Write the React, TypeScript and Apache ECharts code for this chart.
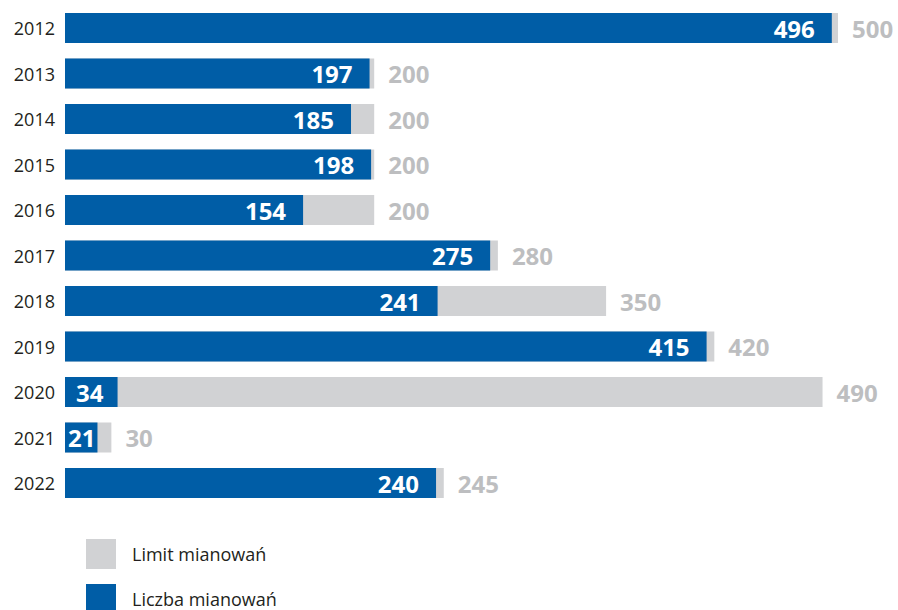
import React, { useEffect, useRef } from "react";
import * as echarts from "echarts";

const years = ["2012", "2013", "2014", "2015", "2016", "2017", "2018", "2019", "2020", "2021", "2022"];
const limitValues = [500, 200, 200, 200, 200, 280, 350, 420, 490, 30, 245];
const countValues = [496, 197, 185, 198, 154, 275, 241, 415, 34, 21, 240];
const limitName = "Limit mianowań";
const countName = "Liczba mianowań";

const BLUE = "#005DA6";
const GREY = "#D1D2D4";
const GREY_TEXT = "#BDBEC0";
const FONT = "Open Sans";

export default function App() {
  const ref = useRef<HTMLDivElement>(null);
  useEffect(() => {
    document.body.style.margin = "0";
    const chart = echarts.init(ref.current!, null, { renderer: "svg" });
    const countData = countValues.map((v) => {
      const small = v < 50;
      return {
        value: v,
        label: small
          ? { position: "insideLeft", distance: v < 25 ? 3 : 11 }
          : { position: "insideRight", distance: 17 },
      };
    });
    const legendBase = {
      orient: "vertical",
      left: 86,
      padding: 0,
      itemWidth: 30,
      itemHeight: 30,
      icon: "rect",
      textStyle: { color: "#231f20", fontSize: 18, lineHeight: 18, fontFamily: FONT, padding: [0, 0, 0, 11] },
    };
    chart.setOption({
      animation: false,
      grid: { left: 65, top: 5.25, width: 773, height: 500.5, outerBoundsMode: "none", containLabel: false },
      xAxis: { type: "value", min: 0, max: 500, show: false },
      yAxis: {
        type: "category",
        data: years,
        inverse: true,
        axisLine: { show: false },
        axisTick: { show: false },
        axisLabel: { color: "#231f20", fontSize: 18, fontFamily: FONT, margin: 10 },
      },
      legend: [
        { ...legendBase, top: 539, data: [limitName] },
        { ...legendBase, top: 584, data: [countName] },
      ],
      series: [
        {
          name: limitName,
          type: "bar",
          data: limitValues,
          barWidth: 30,
          barGap: "-100%",
          itemStyle: { color: GREY },
          label: {
            show: true,
            position: "right",
            distance: 14,
            color: GREY_TEXT,
            fontSize: 24,
            fontWeight: "bold",
            fontFamily: FONT,
          },
        },
        {
          name: countName,
          type: "bar",
          data: countData,
          barWidth: 30,
          barGap: "-100%",
          itemStyle: { color: BLUE },
          label: {
            show: true,
            color: "#ffffff",
            fontSize: 24,
            fontWeight: "bold",
            fontFamily: FONT,
          },
        },
      ],
    });
    return () => chart.dispose();
  }, []);
  return <div ref={ref} style={{ width: 898, height: 610 }} />;
}
